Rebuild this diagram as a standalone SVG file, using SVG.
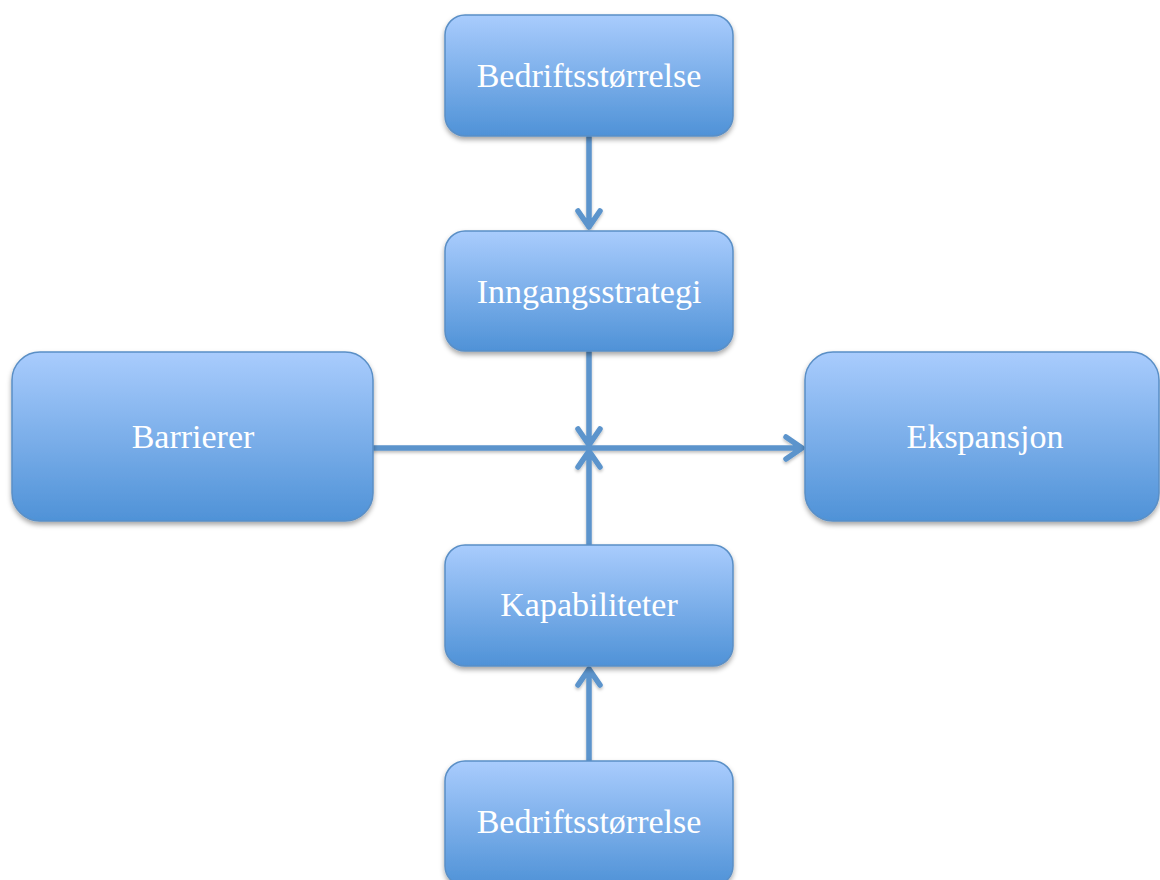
<svg xmlns="http://www.w3.org/2000/svg" width="1160" height="880" viewBox="0 0 1160 880">
<style>
.box{fill:url(#g);stroke:#5a8fc6;stroke-width:1.5;filter:url(#sh)}
.lbl{font-family:"Liberation Serif","DejaVu Serif",serif;font-size:34px;fill:#ffffff;text-anchor:middle}
.con{fill:none;stroke:#5b94cc;stroke-width:5.5;stroke-linecap:round;stroke-linejoin:round}
</style>
<defs>
<linearGradient id="g" x1="0" y1="0" x2="0" y2="1">
<stop offset="0" stop-color="#a9ccfd"/>
<stop offset="1" stop-color="#4f92d7"/>
</linearGradient>
<filter id="sh" x="-10%" y="-10%" width="120%" height="130%">
<feDropShadow dx="0" dy="3" stdDeviation="2.5" flood-color="#000" flood-opacity="0.35"/>
</filter>
<filter id="shl" x="-10%" y="-10%" width="120%" height="130%">
<feDropShadow dx="0" dy="2" stdDeviation="1.5" flood-color="#000" flood-opacity="0.25"/>
</filter>
</defs>
<rect width="1160" height="880" fill="#ffffff"/>
<g id="connectors" filter="url(#shl)">
<path class="con" d="M589 137 V227 M578 211 L589 227 L600 211"/>
<path class="con" d="M589 352 V445 M578 429 L589 445 L600 429"/>
<path class="con" d="M589 544 V451 M578 467 L589 451 L600 467"/>
<path class="con" d="M589 760 V669 M578 685 L589 669 L600 685"/>
<path class="con" d="M374 448 H802 M786 437 L802 448 L786 459"/>
</g>
<g id="n1"><rect class="box" x="445" y="15" width="288" height="121" rx="20"/><text class="lbl" x="589" y="87">Bedriftsstørrelse</text></g>
<g id="n2"><rect class="box" x="445" y="231" width="288" height="120" rx="20"/><text class="lbl" x="589" y="303">Inngangsstrategi</text></g>
<g id="n3"><rect class="box" x="12" y="352" width="361" height="169" rx="28"/><text class="lbl" x="193" y="448">Barrierer</text></g>
<g id="n4"><rect class="box" x="805" y="352" width="354" height="169" rx="28"/><text class="lbl" x="985" y="448">Ekspansjon</text></g>
<g id="n5"><rect class="box" x="445" y="545" width="288" height="121" rx="20"/><text class="lbl" x="589" y="616">Kapabiliteter</text></g>
<g id="n6"><rect class="box" x="445" y="761" width="288" height="125" rx="20"/><text class="lbl" x="589" y="833">Bedriftsstørrelse</text></g>
</svg>
